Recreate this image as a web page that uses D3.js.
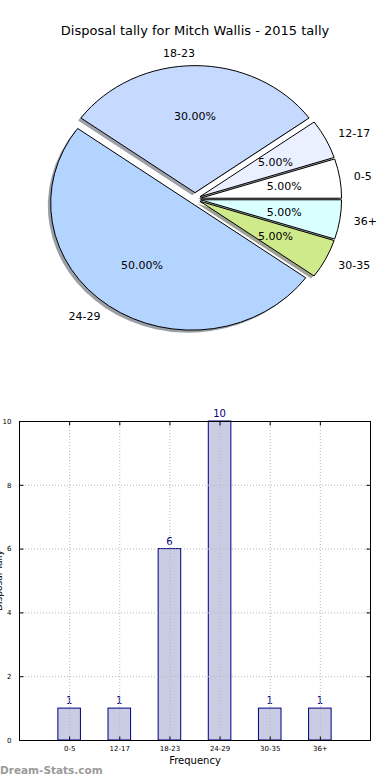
<!DOCTYPE html>
<html>
<head>
<meta charset="utf-8">
<script src="https://cdn.jsdelivr.net/npm/d3@7"></script>
<style>
  body { margin: 0; background: #fff; }
  svg { display: block; font-family: "DejaVu Sans", sans-serif; }
</style>
</head>
<body>
<div id="chart"></div>
<script>
// data
var categories = ["0-5", "12-17", "18-23", "24-29", "30-35", "36+"];
var tally = [1, 1, 6, 10, 1, 1];
var sliceColors = ["#ffffff", "#eaf0ff", "#c6d9ff", "#b3d4ff", "#cfea8a", "#d9ffff"];
var explode = [0.04, 0.04, 0.05, 0.04, 0.04, 0.04];
var yTicks = [0, 2, 4, 6, 8, 10];

var width = 390,
    height = 780;

var svg = d3.select("#chart").append("svg")
    .attr("width", width)
    .attr("height", height);

// --> PIE
svg.append("text")
    .attr("x", 195)
    .attr("y", 35)
    .attr("text-anchor", "middle")
    .style("font-size", "13px")
    .text("Disposal tally for Mitch Wallis - 2015 tally");

var cx = 195, cy = 199, rx = 141, ry = 127;
var total = d3.sum(tally);

// matplotlib style: start at 3 o'clock, go counterclockwise
var pie = d3.pie()
    .sort(null)
    .startAngle(Math.PI / 2)
    .endAngle(Math.PI / 2 - 2 * Math.PI);

var arcs = pie(tally);
arcs.forEach(function (d, i) {
    var mid = (d.startAngle + d.endAngle) / 2;
    d.dx = Math.sin(mid);
    d.dy = -Math.cos(mid);
    d.ox = cx + explode[i] * rx * d.dx;
    d.oy = cy + explode[i] * ry * d.dy;
});

var arc = d3.arc().innerRadius(0).outerRadius(1);

// shadows go under all wedges
svg.append("g")
    .selectAll("path")
    .data(arcs)
    .enter()
    .append("path")
    .attr("transform", function (d) {
        return "translate(" + (d.ox - 0.02 * rx) + "," + (d.oy + 0.02 * ry) + ") scale(" + rx + "," + ry + ")";
    })
    .attr("d", arc)
    .attr("fill", function (d, i) {
        var c = d3.rgb(sliceColors[i]);
        return d3.rgb(c.r * 0.3, c.g * 0.3, c.b * 0.3);
    })
    .attr("fill-opacity", 0.5);

svg.append("g")
    .selectAll("path")
    .data(arcs)
    .enter()
    .append("path")
    .attr("transform", function (d) {
        return "translate(" + d.ox + "," + d.oy + ") scale(" + rx + "," + ry + ")";
    })
    .attr("d", arc)
    .attr("fill", function (d, i) { return sliceColors[i]; })
    .attr("stroke", "#000")
    .attr("stroke-width", 1)
    .attr("vector-effect", "non-scaling-stroke");

// category labels outside
svg.append("g")
    .selectAll("text")
    .data(arcs)
    .enter()
    .append("text")
    .attr("x", function (d) { return d.ox + 1.1 * rx * d.dx; })
    .attr("y", function (d) { return d.oy + 1.1 * ry * d.dy; })
    .attr("dy", "0.35em")
    .attr("text-anchor", function (d) { return d.dx > 0.001 ? "start" : "end"; })
    .style("font-size", "11px")
    .text(function (d, i) { return categories[i]; });

// percentages inside
svg.append("g")
    .selectAll("text")
    .data(arcs)
    .enter()
    .append("text")
    .attr("x", function (d) { return d.ox + 0.6 * rx * d.dx; })
    .attr("y", function (d) { return d.oy + 0.6 * ry * d.dy; })
    .attr("dy", "0.35em")
    .attr("text-anchor", "middle")
    .style("font-size", "11px")
    .text(function (d) { return (d.value / total * 100).toFixed(2) + "%"; });

// --> BAR CHART
var x = d3.scaleLinear().domain([-1, 6]).range([19, 370]);
var y = d3.scaleLinear().domain([0, 10]).range([740, 421]);
var barW = 0.45;

var bars = svg.append("g");

bars.selectAll("rect")
    .data(tally)
    .enter()
    .append("rect")
    .attr("x", function (d, i) { return x(i - barW / 2); })
    .attr("y", function (d) { return y(d); })
    .attr("width", x(barW) - x(0))
    .attr("height", function (d) { return y(0) - y(d); })
    .attr("fill", "#cacce3")
    .attr("stroke", "#000080")
    .attr("stroke-width", 1);

bars.selectAll("text")
    .data(tally)
    .enter()
    .append("text")
    .attr("x", function (d, i) { return x(i); })
    .attr("y", function (d) { return y(d) - 4; })
    .attr("text-anchor", "middle")
    .attr("fill", "#000080")
    .style("font-size", "10px")
    .text(function (d) { return d; });

// grid on top, dotted
var grid = svg.append("g")
    .attr("stroke", "#b8b8b8")
    .attr("stroke-width", 1)
    .attr("stroke-dasharray", "1,2");

grid.selectAll("line.v")
    .data(categories)
    .enter()
    .append("line")
    .attr("x1", function (d, i) { return x(i) + 0.5; })
    .attr("x2", function (d, i) { return x(i) + 0.5; })
    .attr("y1", y(10))
    .attr("y2", y(0));

grid.selectAll("line.h")
    .data(yTicks)
    .enter()
    .append("line")
    .attr("x1", x(-1))
    .attr("x2", x(6))
    .attr("y1", function (d) { return y(d) + 0.5; })
    .attr("y2", function (d) { return y(d) + 0.5; });

// axes frame
svg.append("rect")
    .attr("x", x(-1) + 0.5)
    .attr("y", y(10) + 0.5)
    .attr("width", x(6) - x(-1))
    .attr("height", y(0) - y(10))
    .attr("fill", "none")
    .attr("stroke", "#000")
    .attr("stroke-width", 1);

var yAxis = d3.axisLeft(y).tickValues(yTicks).tickSize(-4).tickPadding(8);
var gy = svg.append("g")
    .attr("transform", "translate(" + (x(-1) + 0.5) + ",0)")
    .call(yAxis);
var yAxisR = d3.axisRight(y).tickValues(yTicks).tickSize(-4).tickFormat("");
var gyr = svg.append("g")
    .attr("transform", "translate(" + (x(6) + 0.5) + ",0)")
    .call(yAxisR);

var xAxis = d3.axisBottom(x)
    .tickValues(d3.range(categories.length))
    .tickFormat(function (d) { return categories[d]; })
    .tickSize(-4).tickPadding(6);
var gx = svg.append("g")
    .attr("transform", "translate(0," + (y(0) + 0.5) + ")")
    .call(xAxis);
var xAxisT = d3.axisTop(x)
    .tickValues(d3.range(categories.length))
    .tickSize(-4).tickFormat("");
var gxt = svg.append("g")
    .attr("transform", "translate(0," + (y(10) + 0.5) + ")")
    .call(xAxisT);

[gy, gyr, gx, gxt].forEach(function (g) {
    g.select(".domain").remove();
    g.selectAll("text")
        .style("font-family", "DejaVu Sans, sans-serif")
        .style("font-size", "7px")
        .attr("fill", "#000");
    g.selectAll("line").attr("stroke", "#000");
});

svg.append("text")
    .attr("x", 195)
    .attr("y", 764)
    .attr("text-anchor", "middle")
    .style("font-size", "10px")
    .text("Frequency");

// y label sits mostly off the left edge, as in the original
svg.append("text")
    .attr("transform", "translate(2," + (y(5)) + ") rotate(-90)")
    .attr("text-anchor", "middle")
    .style("font-size", "9px")
    .text("Disposal Tally");

// watermark
svg.append("text")
    .attr("x", 0)
    .attr("y", 774)
    .attr("fill", "#9a9a9a")
    .style("font-size", "10.5px")
    .style("font-weight", "bold")
    .text("Dream-Stats.com");
</script>
</body>
</html>
